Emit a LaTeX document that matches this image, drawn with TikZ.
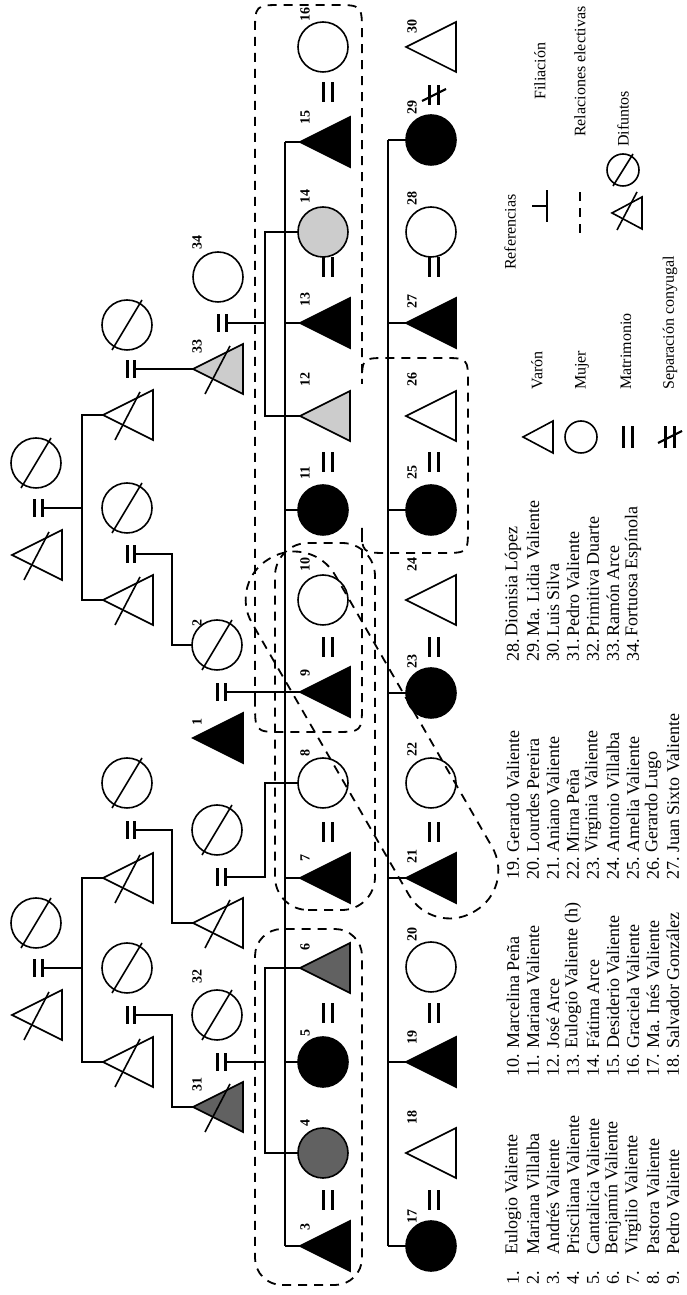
\documentclass[tikz,border=0pt]{standalone}
\usepackage{fontspec}
\setmainfont{Liberation Serif}
\definecolor{dk}{gray}{0.38}
\definecolor{lt}{gray}{0.80}
\newcommand\Tri[4]{\node[tribox] (#1) at (#2,#3+25) {};\filldraw[shp,fill=#4,line join=miter] (#1.north) -- (#1.south west) -- (#1.south east) -- cycle;}
\newcommand\Cir[4]{\node[circ,fill=#4] (#1) at (#2,#3) {};}
\newcommand\Xt[1]{\draw[shp] (#1.center) ++(-25,-13) -- ++(48,25);}
\newcommand\Xc[1]{\draw[shp] (#1.center) ++(-25,-15) -- ++(50,30);}
\newcommand\Eq[5]{\coordinate (#1) at (#2,#3);\draw[eqbar] (#1) ++(-#5,-#4) -- ++(2*#5,0) (#1) ++(-#5,#4) -- ++(2*#5,0);}
\newcommand\Lab[3]{\node[lab] (l#1) at (#2,#3) {#1};}
\newcommand\Nm[5]{\node[nm] (nn#4) at (#1,#3) {#4.};\node[nm] (nt#4) at (#2,#3) {#5};}
\begin{document}
\begin{tikzpicture}[x=1pt,y=-1pt,rotate=90,transform shape,
  ln/.style={line width=1.2pt},
  shp/.style={line width=1.6pt},
  tribox/.style={rectangle,minimum width=50pt,minimum height=50pt,inner sep=0pt,outer sep=0pt},
  ltribox/.style={rectangle,minimum width=32pt,minimum height=30pt,inner sep=0pt,outer sep=0pt},
  circ/.style={circle,draw,line width=1.6pt,minimum size=50pt,inner sep=0pt,outer sep=0pt},
  lcirc/.style={circle,draw,line width=1.6pt,minimum size=32pt,inner sep=0pt,outer sep=0pt},
  lab/.style={font=\bfseries\fontsize{14}{14}\selectfont,inner sep=0pt},
  nm/.style={font=\fontsize{18}{20}\selectfont,inner sep=0pt,anchor=west},
  lg/.style={font=\fontsize{16}{18}\selectfont,inner sep=0pt,anchor=west},
  elect/.style={line width=1.8pt,dash pattern=on 9pt off 7pt},
  eqbar/.style={line width=3pt},
]
\useasboundingbox (0,0) rectangle (1295,686);
\coordinate (S82) at (0,82);
\coordinate (S172) at (0,172);
\coordinate (S265) at (0,265);
\coordinate (S285) at (0,285);
\coordinate (S388) at (0,388);
% ---------- generation 0a
\Tri{te}{280}{12}{white}\Xt{te}
\Cir{ce}{372}{36}{white}\Xc{ce}
\Tri{ta}{740}{12}{white}\Xt{ta}
\Cir{ca}{832}{36}{white}\Xc{ca}
\Eq{me}{327}{38.5}{3.6}{9}
\Eq{ma}{787}{38.5}{3.6}{9}
% ---------- generation 0b
\Tri{td}{233}{103}{white}\Xt{td}
\Cir{cd}{327}{127}{white}\Xc{cd}
\Tri{tf}{417}{103}{white}\Xt{tf}
\Cir{cf}{512}{127}{white}\Xc{cf}
\Tri{tc}{695}{103}{white}\Xt{tc}
\Cir{cc}{787}{127}{white}\Xc{cc}
\Tri{tb}{880}{103}{white}\Xt{tb}
\Cir{cb}{970}{127}{white}\Xc{cb}
\Eq{md}{280}{131}{3.6}{9}
\Eq{mf}{465}{131}{3.6}{9}
\Eq{mc}{741}{131}{3.6}{9}
\Eq{mb}{926}{131}{3.6}{9}
% ---------- generation 1
\Tri{n31}{188}{193}{dk}\Xt{n31}
\Cir{n32}{280}{217}{white}\Xc{n32}
\Tri{tg}{372}{193}{white}\Xt{tg}
\Cir{cg}{465}{217}{white}\Xc{cg}
\Tri{n1}{557}{193}{black}
\Cir{n2}{650}{217}{white}\Xc{n2}
\Tri{n33}{926}{193}{lt}\Xt{n33}
\Cir{n34}{1018}{218}{white}
\Eq{m3132}{233}{221}{4}{9}
\Eq{mg}{418}{221}{4}{9}
\Eq{m12}{603}{221}{4}{9}
\Eq{m3334}{972}{222}{4}{9}
% ---------- generation 2
\Tri{n3}{49}{300}{black}
\Cir{n4}{142}{323}{dk}
\Cir{n5}{233}{323}{black}
\Tri{n6}{327}{300}{dk}
\Tri{n7}{417}{300}{black}
\Cir{n8}{512}{323}{white}
\Tri{n9}{603}{300}{black}
\Cir{n10}{695}{323}{white}
\Cir{n11}{785}{323}{black}
\Tri{n12}{879}{300}{lt}
\Tri{n13}{972}{300}{black}
\Cir{n14}{1063}{323}{lt}
\Tri{n15}{1153}{300}{black}
\Cir{n16}{1248}{323}{white}
\Eq{e34}{95}{328}{4.2}{10}
\Eq{e56}{282}{328}{4.2}{10}
\Eq{e78}{463}{328}{4.2}{10}
\Eq{e910}{648}{328}{4.2}{10}
\Eq{e1112}{833}{328}{4.2}{10}
\Eq{e1314}{1028}{328}{4.2}{10}
\Eq{e1516}{1203}{328}{4.2}{10}
% ---------- generation 3
\Cir{n17}{49}{431}{black}
\Tri{n18}{142}{406}{white}
\Tri{n19}{233}{406}{black}
\Cir{n20}{328}{431}{white}
\Tri{n21}{417}{406}{black}
\Cir{n22}{512}{431}{white}
\Cir{n23}{602}{431}{black}
\Tri{n24}{695}{406}{white}
\Cir{n25}{785}{431}{black}
\Tri{n26}{879}{406}{white}
\Tri{n27}{972}{406}{black}
\Cir{n28}{1063}{431}{white}
\Cir{n29}{1155}{431}{black}
\Tri{n30}{1248}{406}{white}
\Eq{e1718}{95}{434}{4.2}{10}
\Eq{e1920}{282}{434}{4.2}{10}
\Eq{e2122}{463}{434}{4.2}{10}
\Eq{e2324}{648}{434}{4.2}{10}
\Eq{e2526}{833}{434}{4.2}{10}
\Eq{e2728}{1028}{434}{4.2}{10}
\Eq{e2930}{1200}{434}{4.2}{10}
\draw[line width=2.2pt] (e2930) ++(-6,-12) -- ++(12,24);
% ---------- filiation lines
\draw[ln] (me) ++(0,5) -- (me |- S82);
\draw[ln] (td.north) -- (td.north |- S82) -- (tf.north |- S82) -- (tf.north);
\draw[ln] (ma) ++(0,5) -- (ma |- S82);
\draw[ln] (tc.north) -- (tc.north |- S82) -- (tb.north |- S82) -- (tb.north);
\draw[ln] (md) ++(0,5) -- (md |- S172) -- (n31.north |- S172) -- (n31.north);
\draw[ln] (mf) ++(0,5) -- (mf |- S172) -- (tg.north |- S172) -- (tg.north);
\draw[ln] (mc) ++(0,5) -- (mc |- S172) -- (n2.north |- S172) -- (n2.north);
\draw[ln] (mb) ++(0,5) -- (n33.north);
\draw[ln] (m3132) ++(0,5.5) -- (m3132 |- S265);
\draw[ln] (n4.north) -- (n4.north |- S265) -- (n6.north |- S265) -- (n6.north);
\draw[ln] (mg) ++(0,5.5) -- (mg |- S265) -- (n8.north |- S265) -- (n8.north);
\draw[ln] (m3334) ++(0,5.5) -- (m3334 |- S265);
\draw[ln] (n12.north) -- (n12.north |- S265) -- (n14.north |- S265) -- (n14.north);
\draw[ln] (m12) ++(0,5.5) -- (n9.north);
\draw[ln] (n3.north |- S285) -- (n15.north |- S285);
\foreach \k in {n3,n5,n7,n11,n13,n15} {\draw[ln] (\k.north) -- (\k.north |- S285);}
\draw[ln] (n17.north |- S388) -- (n29.north |- S388);
\foreach \k in {n17,n19,n21,n23,n25,n27,n29} {\draw[ln] (\k.north) -- (\k.north |- S388);}
% ---------- labels
\Lab{1}{573}{197}\Lab{2}{672}{197}\Lab{31}{210}{197}\Lab{32}{318}{197}\Lab{33}{948}{197}\Lab{34}{1052}{197}
\Lab{3}{68}{305}\Lab{4}{172}{305}\Lab{5}{262}{305}\Lab{6}{348}{305}\Lab{7}{437}{305}
\Lab{8}{542}{305}\Lab{9}{622}{305}\Lab{10}{730}{305}\Lab{11}{822}{305}\Lab{12}{915}{305}
\Lab{13}{995}{305}\Lab{14}{1098}{305}\Lab{15}{1177}{305}\Lab{16}{1280}{305}
\Lab{17}{78}{412}\Lab{18}{177}{412}\Lab{19}{257}{412}\Lab{20}{360}{412}\Lab{21}{438}{412}
\Lab{22}{545}{412}\Lab{23}{633}{412}\Lab{24}{730}{412}\Lab{25}{822}{412}\Lab{26}{915}{412}
\Lab{27}{993}{412}\Lab{28}{1096}{412}\Lab{29}{1187}{412}\Lab{30}{1268}{412}
% ---------- elective relations
\draw[elect,rounded corners=27] (10,255) rectangle (366,362);
\draw[elect,rounded corners=33] (385,275) rectangle (752,375);
\draw[elect] (593,255) -- (1262,255) .. controls (1290,255) .. (1290,283) -- (1290,334)
  .. controls (1290,362) .. (1262,362) -- (911,362) .. controls (937,362) .. (937,388)
  -- (937,442) .. controls (937,468) .. (911,468) -- (768,468) .. controls (742,468) .. (742,442)
  -- (742,388) .. controls (742,362) .. (768,362) -- (591,362) .. controls (563,362) .. (563,334)
  -- (563,283) .. controls (563,255) .. (593,255) -- cycle;
\begin{scope}[shift={(560,372)},rotate=30]
\draw[elect,rounded corners=47] (-204,-48) rectangle (204,48);
\end{scope}
% ---------- legend
\node[lg] (ref) at (1025,510) {Referencias};
\node[ltribox] (lgT) at (858,538) {};
\draw[shp,line join=miter] (lgT.north) -- (lgT.south west) -- (lgT.south east) -- cycle;
\node[lg] (lgTt) at (905,537) {Varón};
\node[lcirc] (lgC) at (858,581) {};
\node[lg] (lgCt) at (905,582) {Mujer};
\Eq{lgE}{858}{628}{4.5}{11}
\node[lg] (lgEt) at (905,626) {Matrimonio};
\Eq{lgN}{858}{670}{4.5}{11}
\draw[line width=2.2pt] (lgN) ++(-6,-12) -- ++(12,24);
\node[lg] (lgNt) at (905,670) {Separación conyugal};
\coordinate (lgF) at (1089,547);
\draw[line width=1.8pt] (lgF) ++(-16,0) -- ++(32,0) (lgF) -- ++(0,-15);
\node[lg] (lgFt) at (1195,540) {Filiación};
\coordinate (lgR) at (1062,580);
\draw[elect,line width=2.4pt] (lgR) -- ++(46,0);
\node[lg] (lgRt) at (1158,580) {Relaciones electivas};
\node[ltribox] (lgD) at (1082,627) {};
\draw[shp,line join=miter] (lgD.north) -- (lgD.south west) -- (lgD.south east) -- cycle;
\draw[shp] (lgD.center) ++(-17,-10) -- ++(38,20);
\node[lcirc] (lgO) at (1125,623) {};
\draw[shp] (lgO.center) ++(-16,-10) -- ++(32,20);
\node[lg] (lgDt) at (1148,623) {Difuntos};
% ---------- names
\Nm{10}{40}{513}{1}{Eulogio Valiente}
\Nm{10}{40}{533}{2}{Mariana Villalba}
\Nm{10}{40}{553}{3}{Andrés Valiente}
\Nm{10}{40}{573}{4}{Prisciliana Valiente}
\Nm{10}{40}{593}{5}{Cantalicia Valiente}
\Nm{10}{40}{613}{6}{Benjamín Valiente}
\Nm{10}{40}{633}{7}{Virgilio Valiente}
\Nm{10}{40}{653}{8}{Pastora Valiente}
\Nm{10}{40}{673}{9}{Pedro Valiente}
\Nm{218}{246}{513}{10}{Marcelina Peña}
\Nm{218}{246}{533}{11}{Mariana Valiente}
\Nm{218}{246}{553}{12}{José Arce}
\Nm{218}{246}{573}{13}{Eulogio Valiente (h)}
\Nm{218}{246}{593}{14}{Fátima Arce}
\Nm{218}{246}{613}{15}{Desiderio Valiente}
\Nm{218}{246}{633}{16}{Graciela Valiente}
\Nm{218}{246}{653}{17}{Ma. Inés Valiente}
\Nm{218}{246}{673}{18}{Salvador González}
\Nm{415}{442}{513}{19}{Gerardo Valiente}
\Nm{415}{442}{533}{20}{Lourdes Pereira}
\Nm{415}{442}{553}{21}{Aniano Valiente}
\Nm{415}{442}{573}{22}{Mirna Peña}
\Nm{415}{442}{593}{23}{Virginia Valiente}
\Nm{415}{442}{613}{24}{Antonio Villalba}
\Nm{415}{442}{633}{25}{Amelia Valiente}
\Nm{415}{442}{653}{26}{Gerardo Lugo}
\Nm{415}{442}{673}{27}{Juan Sixto Valiente}
\Nm{633}{658}{513}{28}{Dionisia López}
\Nm{633}{658}{533}{29}{Ma. Lidia Valiente}
\Nm{633}{658}{553}{30}{Luis Silva}
\Nm{633}{658}{573}{31}{Pedro Valiente}
\Nm{633}{658}{593}{32}{Primitiva Duarte}
\Nm{633}{658}{613}{33}{Ramón Arce}
\Nm{633}{658}{633}{34}{Fortuosa Espínola}
\end{tikzpicture}
\end{document}
